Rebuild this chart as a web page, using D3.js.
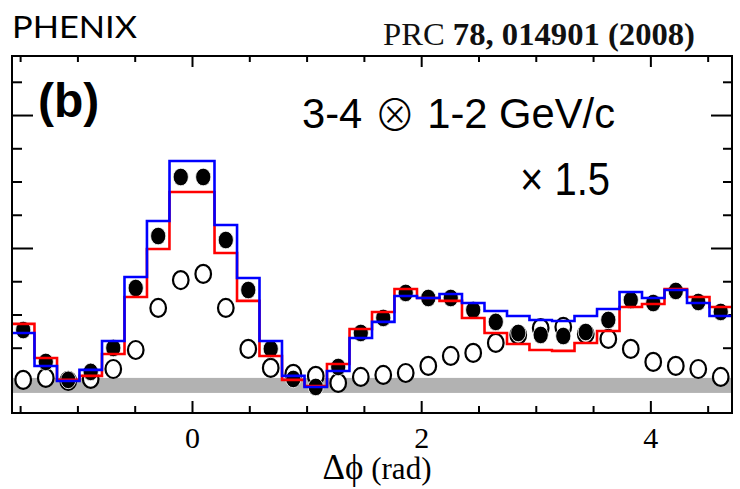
<!DOCTYPE html>
<html>
<head>
<meta charset="utf-8">
<script src="https://cdn.jsdelivr.net/npm/d3@7"></script>
<style>
  html, body { margin: 0; padding: 0; background: #fff; }
  svg { display: block; }
</style>
</head>
<body>
<svg id="chart" width="740" height="489"></svg>
<script>
// Δφ bin centres (rad), 32 bins over [-π/2, 3π/2]
const binCenters = [-1.473, -1.276, -1.080, -0.884, -0.687, -0.491, -0.295, -0.098,
                     0.098,  0.295,  0.491,  0.687,  0.884,  1.080,  1.276,  1.473,
                     1.669,  1.865,  2.062,  2.258,  2.454,  2.651,  2.847,  3.043,
                     3.240,  3.436,  3.633,  3.829,  4.025,  4.222,  4.418,  4.614];
const binWidth = Math.PI / 16;

// pair yield, filled markers (scaled x1.5)
const filledYield = [0.0383, 0.0143, 0.0008, 0.0068, 0.0248, 0.0699, 0.1090, 0.1534,
                     0.1534, 0.1060, 0.0684, 0.0241, 0.0015, -0.0045, 0.0105, 0.0361,
                     0.0474, 0.0662, 0.0624, 0.0624, 0.0534, 0.0444, 0.0361, 0.0346,
                     0.0338, 0.0368, 0.0459, 0.0609, 0.0586, 0.0677, 0.0594, 0.0519];

// pair yield, open markers
const openYield = [0.0008, 0.0023, 0.0000, 0.0015, 0.0090, 0.0233, 0.0549, 0.0759,
                   0.0805, 0.0549, 0.0241, 0.0098, 0.0053, 0.0038, -0.0015, 0.0030,
                   0.0045, 0.0060, 0.0113, 0.0188, 0.0211, 0.0286, 0.0346, 0.0398,
                   0.0406, 0.0353, 0.0316, 0.0241, 0.0143, 0.0113, 0.0090, 0.0030];

// systematic envelope, lower (red) histogram
const redHist = [0.0429, 0.0173, 0.0008, 0.0038, 0.0203, 0.0632, 0.0992, 0.1421,
                 0.1421, 0.0962, 0.0602, 0.0188, 0.0008, -0.0038, 0.0128, 0.0391,
                 0.0519, 0.0692, 0.0624, 0.0602, 0.0474, 0.0361, 0.0278, 0.0233,
                 0.0226, 0.0286, 0.0376, 0.0556, 0.0579, 0.0692, 0.0632, 0.0556];

// systematic envelope, upper (blue) histogram
const blueHist = [0.0361, 0.0113, 0.0000, 0.0083, 0.0301, 0.0782, 0.1203, 0.1654,
                  0.1654, 0.1173, 0.0774, 0.0301, 0.0038, -0.0045, 0.0075, 0.0323,
                  0.0444, 0.0639, 0.0624, 0.0654, 0.0586, 0.0526, 0.0489, 0.0459,
                  0.0451, 0.0489, 0.0541, 0.0669, 0.0624, 0.0684, 0.0586, 0.0489];

// ZYAM normalisation uncertainty band
const bandRange = [-0.0090, 0.0023];

// axis ticks
const xMajorTicks = [0, 2, 4];
const xMinorTicks = [-1.5, -1, -0.5, 0.5, 1, 1.5, 2.5, 3, 3.5, 4.5];
const yMajorTicks = [0, 0.1, 0.2];
const yMinorTicks = [0.025, 0.05, 0.075, 0.125, 0.15, 0.175, 0.225];

const svg = d3.select("#chart");
const L = 12, R = 732, T = 56, B = 413;

const x = d3.scaleLinear().domain([-Math.PI / 2, 1.5 * Math.PI]).range([L, R]);
const y = d3.scaleLinear().domain([-0.0241, 0.2444]).range([B, T]);

// ---- ticks (drawn inward on all four sides)
function styleAxis(g) {
  g.select(".domain").remove();
  g.selectAll("line").attr("stroke", "#000").attr("stroke-width", 2);
}
svg.append("g").attr("transform", `translate(0,${B})`)
  .call(d3.axisBottom(x).tickValues(xMinorTicks).tickSize(-7).tickFormat(""))
  .call(styleAxis);
const xMaj = svg.append("g").attr("transform", `translate(0,${B})`)
  .call(d3.axisBottom(x).tickValues(xMajorTicks).tickSize(-12).tickPadding(14).tickFormat(d3.format("d")))
  .call(styleAxis);
xMaj.selectAll("text")
  .attr("font-family", "'Liberation Serif', 'Times New Roman', serif")
  .attr("font-size", 30).attr("fill", "#000");

svg.append("g").attr("transform", `translate(0,${T})`)
  .call(d3.axisTop(x).tickValues(xMinorTicks).tickSize(-6).tickFormat(""))
  .call(styleAxis);
svg.append("g").attr("transform", `translate(0,${T})`)
  .call(d3.axisTop(x).tickValues(xMajorTicks).tickSize(-11).tickFormat(""))
  .call(styleAxis);

svg.append("g").attr("transform", `translate(${L},0)`)
  .call(d3.axisLeft(y).tickValues(yMinorTicks).tickSize(-10).tickFormat(""))
  .call(styleAxis);
svg.append("g").attr("transform", `translate(${L},0)`)
  .call(d3.axisLeft(y).tickValues(yMajorTicks).tickSize(-21).tickFormat(""))
  .call(styleAxis);
svg.append("g").attr("transform", `translate(${R},0)`)
  .call(d3.axisRight(y).tickValues(yMinorTicks).tickSize(-9).tickFormat(""))
  .call(styleAxis);
svg.append("g").attr("transform", `translate(${R},0)`)
  .call(d3.axisRight(y).tickValues(yMajorTicks).tickSize(-21).tickFormat(""))
  .call(styleAxis);

// ---- gray uncertainty band
svg.append("rect")
  .attr("x", L).attr("width", R - L)
  .attr("y", y(bandRange[1])).attr("height", y(bandRange[0]) - y(bandRange[1]))
  .attr("fill", "#b2b2b2");

// ---- open markers
svg.append("g").selectAll("ellipse").data(openYield).join("ellipse")
  .attr("cx", (d, i) => x(binCenters[i])).attr("cy", d => y(d))
  .attr("rx", 7.8).attr("ry", 9)
  .attr("fill", "#fff").attr("stroke", "#000").attr("stroke-width", 2.2);

// ---- filled markers
svg.append("g").selectAll("ellipse").data(filledYield).join("ellipse")
  .attr("cx", (d, i) => x(binCenters[i])).attr("cy", d => y(d))
  .attr("rx", 7.6).attr("ry", 8.8)
  .attr("fill", "#000").attr("stroke", "#fff").attr("stroke-width", 0.8);

// ---- step histograms
function stepPoints(vals) {
  const pts = [];
  vals.forEach((v, i) => {
    pts.push([binCenters[i] - binWidth / 2, v]);
    pts.push([binCenters[i] + binWidth / 2, v]);
  });
  return pts;
}
const stepLine = d3.line().x(d => x(d[0])).y(d => y(d[1]));
svg.append("path").attr("d", stepLine(stepPoints(redHist)))
  .attr("fill", "none").attr("stroke", "#ff0000").attr("stroke-width", 2.6);
svg.append("path").attr("d", stepLine(stepPoints(blueHist)))
  .attr("fill", "none").attr("stroke", "#0000ff").attr("stroke-width", 2.6);

// ---- frame
svg.append("rect").attr("x", L).attr("y", T).attr("width", R - L).attr("height", B - T)
  .attr("fill", "none").attr("stroke", "#000").attr("stroke-width", 2);

// ---- texts
svg.append("text").attr("x", 12).attr("y", 38)
  .attr("font-family", "Lato, 'Open Sans', sans-serif").attr("font-size", 31)
  .attr("textLength", 125).attr("lengthAdjust", "spacingAndGlyphs")
  .attr("fill", "#000").text("PHENIX");

const ref = svg.append("text").attr("x", 383).attr("y", 45)
  .attr("font-family", "'Liberation Serif', 'Times New Roman', serif").attr("font-size", 31)
  .attr("textLength", 312).attr("lengthAdjust", "spacingAndGlyphs").attr("fill", "#111");
ref.append("tspan").text("PRC ");
ref.append("tspan").attr("font-weight", "bold").text("78, 014901 (2008)");

svg.append("text").attr("x", 38).attr("y", 117)
  .attr("font-family", "'Liberation Sans', Arial, sans-serif").attr("font-weight", "bold")
  .attr("font-size", 48).attr("fill", "#000").text("(b)");

const kin = svg.append("text").attr("x", 302).attr("y", 128)
  .attr("font-family", "'Liberation Sans', Arial, sans-serif").attr("font-size", 43)
  .attr("textLength", 313).attr("lengthAdjust", "spacingAndGlyphs")
  .attr("fill", "#000");
kin.append("tspan").text("3-4 ");
kin.append("tspan").attr("font-family", "'Noto Sans CJK JP', 'DejaVu Sans', sans-serif")
  .attr("font-weight", 300).attr("dy", 3).text("\u2297");
kin.append("tspan").attr("dy", -3).text(" 1-2 GeV/c");

svg.append("text").attr("x", 520).attr("y", 195)
  .attr("font-family", "'Liberation Sans', Arial, sans-serif").attr("font-size", 46)
  .attr("textLength", 90).attr("lengthAdjust", "spacingAndGlyphs")
  .attr("fill", "#000").text("\u00d7 1.5");

const xl = svg.append("text").attr("x", 377).attr("y", 479).attr("text-anchor", "middle")
  .attr("font-family", "'Liberation Serif', 'Times New Roman', serif").attr("fill", "#000")
  .attr("textLength", 109).attr("lengthAdjust", "spacingAndGlyphs");
xl.append("tspan").attr("font-size", 35).text("\u0394\u03d5");
xl.append("tspan").attr("font-size", 31).text(" (rad)");
</script>
</body>
</html>
